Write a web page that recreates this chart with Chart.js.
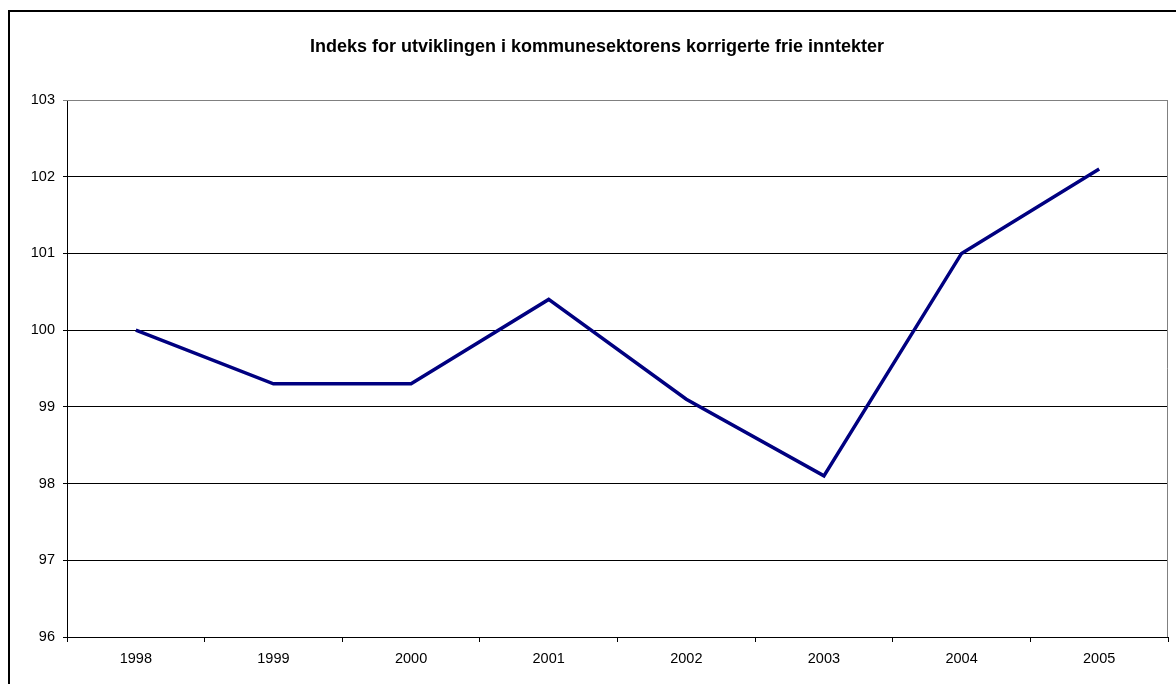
<!DOCTYPE html>
<html lang="no">
<head>
<meta charset="UTF-8">
<title>Indeks for utviklingen i kommunesektorens korrigerte frie inntekter</title>
<script src="https://cdn.jsdelivr.net/npm/chart.js"></script>
<style>
  html, body { margin: 0; padding: 0; background: #fff; overflow: hidden; }
  #wrap { width: 1176px; height: 684px; }
</style>
</head>
<body>
<div id="wrap"><canvas id="chart"></canvas></div>
<script>
const years = ['1998', '1999', '2000', '2001', '2002', '2003', '2004', '2005'];
const indeks = [100, 99.3, 99.3, 100.4, 99.1, 98.1, 101, 102.1];
const yMin = 96;
const yMax = 103;
const tittel = 'Indeks for utviklingen i kommunesektorens korrigerte frie inntekter';
const fontFam = 'Liberation Sans, Arial, sans-serif';

// outer frame, title and grey plot border on top/right
const frame = {
  id: 'frame',
  beforeDraw(chart) {
    const c = chart.ctx;
    c.save();
    c.fillStyle = '#fff';
    c.fillRect(0, 0, chart.width, chart.height);
    c.restore();
  },
  afterDraw(chart) {
    const c = chart.ctx;
    const a = chart.chartArea;
    c.save();
    c.strokeStyle = '#808080';
    c.lineWidth = 1;
    c.beginPath();
    c.moveTo(a.left, a.top + 0.5);
    c.lineTo(a.right - 0.5, a.top + 0.5);
    c.lineTo(a.right - 0.5, a.bottom);
    c.stroke();
    c.strokeStyle = '#000';
    c.lineWidth = 2;
    c.strokeRect(9, 11, 1400, 1000);
    c.fillStyle = '#000';
    c.font = 'bold 18px ' + fontFam;
    c.textAlign = 'center';
    c.textBaseline = 'middle';
    c.fillText(tittel, 597, 47.5);
    c.restore();
  }
};

new Chart(document.getElementById('chart'), {
  type: 'line',
  data: {
    labels: years,
    datasets: [{
      data: indeks,
      borderColor: '#000080',
      borderWidth: 3.5,
      pointRadius: 0,
      tension: 0,
      fill: false
    }]
  },
  options: {
    responsive: true,
    maintainAspectRatio: false,
    animation: false,
    layout: { padding: { left: 0, right: 8, top: 100, bottom: 0 } },
    plugins: {
      legend: { display: false },
      tooltip: { enabled: false },
      title: { display: false }
    },
    scales: {
      x: {
        type: 'category',
        offset: true,
        afterFit(scale) { scale.height = 47; },
        grid: {
          offset: true,
          drawOnChartArea: false,
          drawTicks: true,
          tickLength: 5,
          color: '#000'
        },
        border: { color: '#000', width: 1 },
        ticks: {
          color: '#000',
          padding: 8,
          maxRotation: 0,
          font: { family: fontFam, size: 14.5 }
        }
      },
      y: {
        min: yMin,
        max: yMax,
        afterFit(scale) { scale.width = 67; },
        grid: {
          color: (ctx) => (ctx.tick && ctx.tick.value === yMax) ? '#808080' : '#000',
          tickLength: 4,
          lineWidth: 1
        },
        border: { color: '#000', width: 1 },
        ticks: {
          stepSize: 1,
          color: '#000',
          padding: 8,
          font: { family: fontFam, size: 14.5 }
        }
      }
    }
  },
  plugins: [frame]
});
</script>
</body>
</html>
